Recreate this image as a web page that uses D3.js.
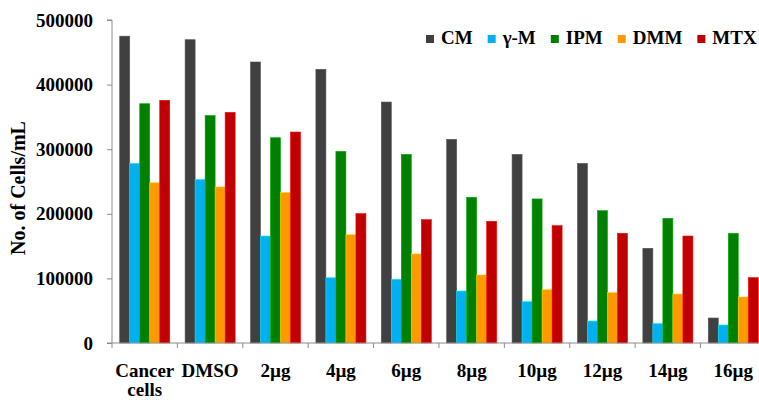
<!DOCTYPE html>
<html>
<head>
<meta charset="utf-8">
<script src="https://cdn.jsdelivr.net/npm/d3@7"></script>
</head>
<body style="margin:0; background:#fff">
<svg id="chart" width="759" height="403"></svg>
<script>
// Chart data
const categories = ["Cancer cells", "DMSO", "2µg", "4µg", "6µg", "8µg", "10µg", "12µg", "14µg", "16µg"];
const seriesNames = ["CM", "γ-M", "IPM", "DMM", "MTX"];
const seriesColors = ["#404040", "#00b0f0", "#008000", "#ff9900", "#c00000"];

const cmValues  = [475000, 469500, 435000, 423700, 373000, 315300, 292000, 278000, 146600, 38700];
const gmValues  = [278000, 253000, 165600, 101000, 98600, 80500, 64000, 34000, 30000, 27900];
const ipmValues = [370400, 352000, 317800, 296700, 292000, 225500, 223000, 204800, 193000, 169800];
const dmmValues = [248000, 241500, 232700, 167600, 137800, 105300, 82600, 77900, 75800, 71200];
const mtxValues = [375700, 357000, 326600, 200200, 190900, 188400, 181600, 169800, 165600, 101100];

const yTicks = [0, 100000, 200000, 300000, 400000, 500000];

const allSeries = [cmValues, gmValues, ipmValues, dmmValues, mtxValues];

const FONT = "'Liberation Serif', 'Times New Roman', serif";
const svg = d3.select("#chart");

const margin = { left: 112, top: 20, bottom: 343 };
const plotRight = 766; // plot runs a bit past the picture's right edge

const x = d3.scaleBand()
  .domain(categories)
  .range([margin.left, plotRight])
  .paddingInner(0.235)
  .paddingOuter(0.118);

const xInner = d3.scaleBand()
  .domain(seriesNames)
  .range([0, x.bandwidth()]);

const y = d3.scaleLinear()
  .domain([0, 500000])
  .range([margin.bottom, margin.top]);

// Bars
const groups = svg.append("g")
  .selectAll("g")
  .data(categories)
  .join("g")
  .attr("transform", d => `translate(${x(d)},0)`);

groups.selectAll("rect")
  .data((d, i) => seriesNames.map((s, j) => ({ s, j, v: allSeries[j][i] })))
  .join("rect")
  .attr("x", d => xInner(d.s))
  .attr("width", xInner.bandwidth())
  .attr("y", d => y(d.v))
  .attr("height", d => y(0) - y(d.v))
  .attr("fill", d => seriesColors[d.j])
  .attr("stroke", d => d3.color(seriesColors[d.j]).brighter(0.8))
  .attr("stroke-width", 0.6);

// Y axis
const yAxis = svg.append("g")
  .attr("transform", `translate(${margin.left},0)`)
  .call(d3.axisLeft(y).tickValues(yTicks).tickFormat(d3.format("d")).tickSize(5).tickPadding(14));

yAxis.select(".domain").attr("stroke", "#8c8c8c").attr("d", `M-5,${y(500000)}H0V${y(0)}`);
yAxis.selectAll(".tick line").attr("stroke", "#8c8c8c");
yAxis.selectAll(".tick text")
  .style("font-family", FONT)
  .style("font-weight", "bold")
  .style("font-size", "19px")
  .attr("fill", "#000");

// X axis (ticks on the group boundaries)
const step = x.step();
const boundaries = d3.range(categories.length + 1).map(i => margin.left + i * step);

svg.append("line")
  .attr("x1", margin.left - 5).attr("x2", plotRight)
  .attr("y1", y(0)).attr("y2", y(0))
  .attr("stroke", "#8c8c8c");

svg.append("g")
  .selectAll("line")
  .data(boundaries)
  .join("line")
  .attr("x1", d => d).attr("x2", d => d)
  .attr("y1", y(0)).attr("y2", y(0) + 5)
  .attr("stroke", "#8c8c8c");

const xLabels = svg.append("g")
  .selectAll("text")
  .data(categories)
  .join("text")
  .attr("x", d => x(d) + x.bandwidth() / 2)
  .attr("y", 377)
  .attr("text-anchor", "middle")
  .style("font-family", FONT)
  .style("font-weight", "bold")
  .style("font-size", "19px");

xLabels.each(function (d) {
  const words = d === "Cancer cells" ? ["Cancer", "cells"] : [d];
  d3.select(this).selectAll("tspan")
    .data(words)
    .join("tspan")
    .attr("x", d3.select(this).attr("x"))
    .attr("dy", (w, i) => i === 0 ? 0 : 19)
    .text(w => w);
});

// Y axis title
svg.append("text")
  .attr("transform", "translate(25,188) rotate(-90)")
  .attr("text-anchor", "middle")
  .style("font-family", FONT)
  .style("font-weight", "bold")
  .style("font-size", "20px")
  .text("No. of Cells/mL");

// Legend
const legend = svg.append("g");
let lx = 426;
seriesNames.forEach((name, i) => {
  legend.append("rect")
    .attr("x", lx).attr("y", 35)
    .attr("width", 8).attr("height", 8)
    .attr("fill", seriesColors[i]);
  const t = legend.append("text")
    .attr("x", lx + 15).attr("y", 44)
    .style("font-family", FONT)
    .style("font-weight", "bold")
    .style("font-size", "19px")
    .text(name);
  lx += 15 + t.node().getComputedTextLength() + 15;
});
</script>
</body>
</html>
